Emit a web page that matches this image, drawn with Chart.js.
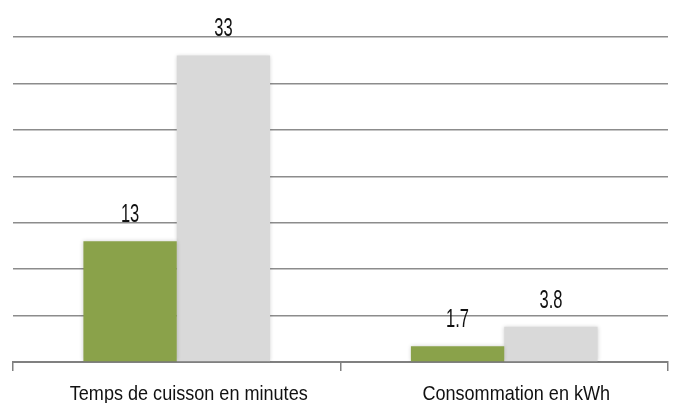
<!DOCTYPE html>
<html>
<head>
<meta charset="utf-8">
<script src="https://cdn.jsdelivr.net/npm/chart.js@4/dist/chart.umd.min.js"></script>
<style>
  html, body { margin: 0; padding: 0; background: #fff; }
  #wrap { width: 679px; height: 403px; }
</style>
</head>
<body>
<div id="wrap"><canvas id="chart"></canvas></div>
<script>
// ===== データ =====
const categories = ['Temps de cuisson en minutes', 'Consommation en kWh'];
const greenValues = [13, 1.7];
const grayValues = [33, 3.8];
const yMax = 35;
const yStep = 5;

const FONT = "'Liberation Sans', Arial, sans-serif";

// 横に縮めた文字を描く（元画像の文字は細長い）
function narrowText(ctx, text, x, y, size, squeeze) {
  ctx.save();
  ctx.font = size + 'px ' + FONT;
  ctx.textAlign = 'center';
  ctx.textBaseline = 'middle';
  ctx.fillStyle = '#111';
  ctx.translate(x, y);
  ctx.scale(squeeze, 1);
  ctx.fillText(text, 0, 0);
  ctx.restore();
}

// ===== 値ラベル・カテゴリ名 =====
const textLabels = {
  id: 'textLabels',
  afterDatasetsDraw(chart) {
    const ctx = chart.ctx;
    chart.data.datasets.forEach((ds, i) => {
      chart.getDatasetMeta(i).data.forEach((bar, j) => {
        narrowText(ctx, String(ds.data[j]), bar.x, bar.y - 26, 25, 0.66);
      });
    });
    const xs = chart.scales.x;
    chart.data.labels.forEach((lab, j) => {
      narrowText(ctx, lab, xs.getPixelForValue(j) + 12, chart.chartArea.bottom + 32, 21, 0.86);
    });
  }
};

// ===== 棒の影 =====
const barShadow = {
  id: 'barShadow',
  beforeDatasetsDraw(chart) {
    const ctx = chart.ctx;
    ctx.save();
    ctx.shadowColor = 'rgba(0,0,0,0.18)';
    ctx.shadowBlur = 4;
  },
  afterDatasetsDraw(chart) {
    chart.ctx.restore();
  }
};

new Chart(document.getElementById('chart'), {
  type: 'bar',
  data: {
    labels: categories,
    datasets: [
      { data: greenValues, backgroundColor: '#8AA24A', borderWidth: 0 },
      { data: grayValues, backgroundColor: '#D9D9D9', borderWidth: 0 }
    ]
  },
  options: {
    responsive: true,
    maintainAspectRatio: false,
    animation: false,
    layout: { padding: { left: 13, right: 11, top: 37, bottom: 32 } },
    datasets: { bar: { categoryPercentage: 0.57, barPercentage: 1.0 } },
    plugins: { legend: { display: false }, tooltip: { enabled: false } },
    scales: {
      x: {
        grid: { display: true, offset: true, drawOnChartArea: false, drawTicks: true, tickLength: 9, color: '#808080', lineWidth: 1.5 },
        border: { display: true, color: '#808080', width: 2 },
        ticks: { display: false }
      },
      y: {
        min: 0,
        max: yMax,
        ticks: { display: false, stepSize: yStep },
        grid: { drawTicks: false, color: '#8c8c8c', lineWidth: 1.5 },
        border: { display: false }
      }
    }
  },
  plugins: [barShadow, textLabels]
});
</script>
</body>
</html>
